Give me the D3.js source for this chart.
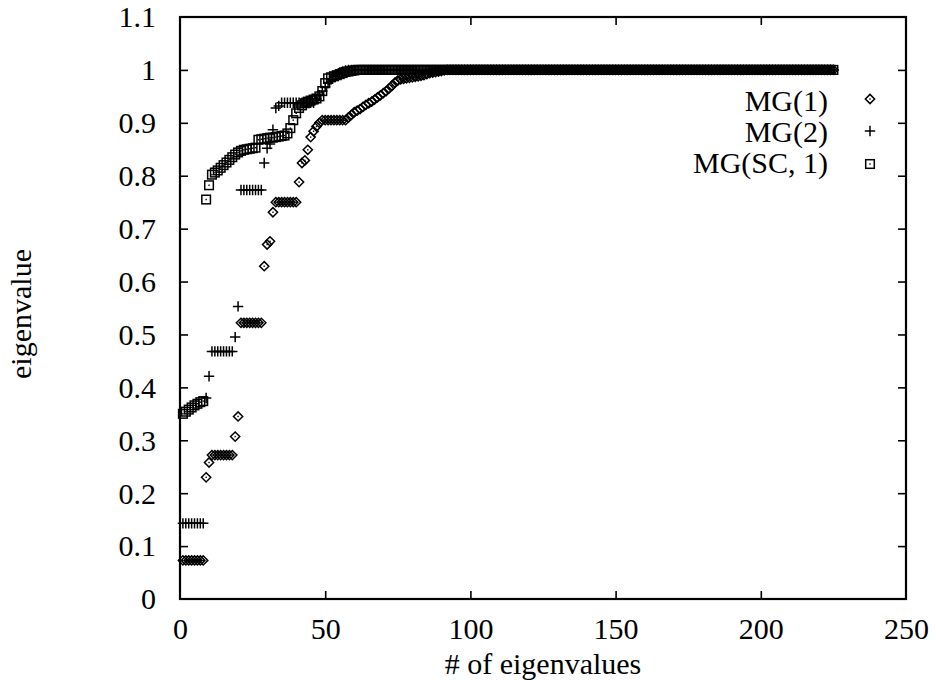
<!DOCTYPE html>
<html><head><meta charset="utf-8">
<script src="https://cdn.jsdelivr.net/npm/d3@7/dist/d3.min.js"></script>
<style>body{margin:0;background:#fff;} svg{display:block;}</style>
</head><body>
<svg id="chart" width="936" height="680"></svg>
<script>
// ---- data ----
const seriesNames = ["MG(1)", "MG(2)", "MG(SC, 1)"];
const xTicks = [0, 50, 100, 150, 200, 250];
const xTickLabels = ["0", "50", "100", "150", "200", "250"];
const yTicks = [0, 0.1, 0.2, 0.3, 0.4, 0.5, 0.6, 0.7, 0.8, 0.9, 1.0, 1.1];
const yTickLabels = ["0", "0.1", "0.2", "0.3", "0.4", "0.5", "0.6", "0.7", "0.8", "0.9", "1", "1.1"];

const mg1 = [
0.073,0.073,0.073,0.073,0.073,0.073,0.073,0.073,
0.230,0.258,
0.272,0.272,0.272,0.272,0.272,0.272,0.272,0.272,
0.307,0.345,
0.522,0.522,0.522,0.522,0.522,0.522,0.522,0.522,
0.629,0.670,0.676,0.731,
0.750,0.750,0.750,0.750,0.750,0.750,0.750,0.750,
0.788,0.824,0.829,0.849,0.873,0.884,0.893,0.900,
0.905,0.905,0.905,0.905,0.905,0.905,0.905,0.905,0.905,
0.910,0.915,0.920,0.923,0.926,0.930,0.934,0.937,0.940,0.944,
0.948,0.952,0.956,0.960,0.965,0.970,0.976,0.980,0.982,0.983,
0.984,0.985,0.986,0.987,0.988,0.989,0.990,0.992,0.994,0.995,
0.996,0.997,0.998,0.999,
1,1,1,1,1,1,1,1,1,1, 1,1,1,1,1,1,1,1,1,1,
1,1,1,1,1,1,1,1,1,1, 1,1,1,1,1,1,1,1,1,1,
1,1,1,1,1,1,1,1,1,1, 1,1,1,1,1,1,1,1,1,1,
1,1,1,1,1,1,1,1,1,1, 1,1,1,1,1,1,1,1,1,1,
1,1,1,1,1,1,1,1,1,1, 1,1,1,1,1,1,1,1,1,1,
1,1,1,1,1,1,1,1,1,1, 1,1,1,1,1,1,1,1,1,1,
1,1,1,1,1,1,1,1,1,1, 1,1,1,1
];

const mg2 = [
0.143,0.143,0.143,0.143,0.143,0.143,0.143,0.143,
0.380,0.421,
0.468,0.468,0.468,0.468,0.468,0.468,0.468,0.468,
0.495,0.553,
0.773,0.773,0.773,0.773,0.773,0.773,0.773,0.773,
0.824,0.852,0.860,0.887,0.928,0.932,
0.938,0.938,0.938,0.938,0.938,0.938,0.938,0.938,0.938,0.938,0.938,0.938,
0.945,0.952,0.960,0.968,0.975,0.982,0.988,0.992,0.995,0.997,0.999,
1,1,1,1,1,1,1,1,1,1, 1,1,1,1,1,1,1,1,1,1,
1,1,1,1,1,1,1,1,1,1, 1,1,1,1,1,1,1,1,1,1,
1,1,1,1,1,1,1,1,1,1, 1,1,1,1,1,1,1,1,1,1,
1,1,1,1,1,1,1,1,1,1, 1,1,1,1,1,1,1,1,1,1,
1,1,1,1,1,1,1,1,1,1, 1,1,1,1,1,1,1,1,1,1,
1,1,1,1,1,1,1,1,1,1, 1,1,1,1,1,1,1,1,1,1,
1,1,1,1,1,1,1,1,1,1, 1,1,1,1,1,1,1,1,1,1,
1,1,1,1,1,1,1,1,1,1, 1,1,1,1,1,1,1,1,1,1,
1,1,1,1,1,1,1,1
];

const mgsc1 = [
0.350,0.354,0.358,0.362,0.366,0.369,0.372,0.374,
0.755,0.782,
0.802,0.806,0.810,0.815,0.820,0.825,0.830,0.835,0.840,0.844,
0.847,0.849,0.850,0.851,0.852,0.853,
0.868,0.869,0.870,0.871,0.872,0.872,0.873,0.874,0.875,0.876,
0.880,0.890,0.905,0.918,0.928,0.933,0.937,0.940,0.942,0.944,0.946,0.950,
0.960,0.975,0.984,0.986,0.988,0.990,0.992,0.994,0.996,0.997,0.998,0.999,
1,1,1,1,1,1,1,1,1,1, 1,1,1,1,1,1,1,1,1,1,
1,1,1,1,1,1,1,1,1,1, 1,1,1,1,1,1,1,1,1,1,
1,1,1,1,1,1,1,1,1,1, 1,1,1,1,1,1,1,1,1,1,
1,1,1,1,1,1,1,1,1,1, 1,1,1,1,1,1,1,1,1,1,
1,1,1,1,1,1,1,1,1,1, 1,1,1,1,1,1,1,1,1,1,
1,1,1,1,1,1,1,1,1,1, 1,1,1,1,1,1,1,1,1,1,
1,1,1,1,1,1,1,1,1,1, 1,1,1,1,1,1,1,1,1,1,
1,1,1,1,1,1,1,1,1,1, 1,1,1,1,1,1,1,1,1,1,
1,1,1,1,1
];

// ---- layout ----
const svg = d3.select("#chart");
const L = 180, R = 906, T = 17, B = 599;
const FONT = "'Liberation Serif', 'Times New Roman', serif";
const x = d3.scaleLinear().domain([0, 250]).range([L, R]);
const y = d3.scaleLinear().domain([0, 1.1]).range([B, T]);

svg.append("rect").attr("width", 936).attr("height", 680).attr("fill", "#fff");

// axes with inward ticks (mirrored)
const tick = 8;
const gB = svg.append("g").attr("transform", `translate(0,${B})`)
  .call(d3.axisBottom(x).tickValues(xTicks).tickFormat((d, i) => xTickLabels[i])
        .tickSizeInner(-tick).tickSizeOuter(0).tickPadding(19));
const gL = svg.append("g").attr("transform", `translate(${L},0)`)
  .call(d3.axisLeft(y).tickValues(yTicks).tickFormat((d, i) => yTickLabels[i])
        .tickSizeInner(-tick).tickSizeOuter(0).tickPadding(24));
const gT = svg.append("g").attr("transform", `translate(0,${T})`)
  .call(d3.axisTop(x).tickValues(xTicks).tickFormat("").tickSizeInner(-tick).tickSizeOuter(0));
const gR = svg.append("g").attr("transform", `translate(${R},0)`)
  .call(d3.axisRight(y).tickValues(yTicks).tickFormat("").tickSizeInner(-tick).tickSizeOuter(0));
[gB, gL, gT, gR].forEach(g => {
  g.select(".domain").remove();
  g.selectAll(".tick line").attr("stroke", "#000").attr("stroke-width", 1.6);
  g.selectAll(".tick text").attr("fill", "#000").style("font-family", FONT).style("font-size", "30px");
});
gB.selectAll(".tick text").attr("dy", "0.71em");
gL.selectAll(".tick text").attr("dy", "0.33em");
// remove ticks lying on the frame corners
gL.selectAll(".tick line").filter(d => d === 0 || Math.abs(d - 1.1) < 1e-9).remove();
gR.selectAll(".tick line").filter(d => d === 0 || Math.abs(d - 1.1) < 1e-9).remove();
gB.selectAll(".tick line").filter(d => d === 0 || d === 250).remove();
gT.selectAll(".tick line").filter(d => d === 0 || d === 250).remove();

svg.append("rect").attr("x", L).attr("y", T).attr("width", R - L).attr("height", B - T)
  .attr("fill", "none").attr("stroke", "#000").attr("stroke-width", 2.2);

// axis titles
svg.append("text").attr("x", (L + R) / 2).attr("y", 674).attr("text-anchor", "middle")
  .style("font-family", FONT).style("font-size", "30px").text("# of eigenvalues");
svg.append("text").attr("transform", "translate(31,314) rotate(-90)").attr("text-anchor", "middle")
  .style("font-family", FONT).style("font-size", "30px").text("eigenvalue");

// markers
const SW = 1.5;
function drawMarker(g, type, cx, cy) {
  if (type === 0) {
    const r = 4.6;
    g.append("path").attr("d", `M${cx},${cy - r}L${cx + r},${cy}L${cx},${cy + r}L${cx - r},${cy}Z`)
      .attr("fill", "none").attr("stroke", "#000").attr("stroke-width", SW);
    g.append("rect").attr("x", cx - 0.7).attr("y", cy - 0.7).attr("width", 1.4).attr("height", 1.4).attr("fill", "#000");
  } else if (type === 1) {
    const r = 5.2;
    g.append("path").attr("d", `M${cx - r},${cy}H${cx + r}M${cx},${cy - r}V${cy + r}`)
      .attr("fill", "none").attr("stroke", "#000").attr("stroke-width", SW);
  } else {
    const r = 4.3;
    g.append("rect").attr("x", cx - r).attr("y", cy - r).attr("width", 2 * r).attr("height", 2 * r)
      .attr("fill", "none").attr("stroke", "#000").attr("stroke-width", SW);
    g.append("rect").attr("x", cx - 0.7).attr("y", cy - 0.7).attr("width", 1.4).attr("height", 1.4).attr("fill", "#000");
  }
}

const allSeries = [mg1, mg2, mgsc1];
const plotG = svg.append("g");
allSeries.forEach((vals, s) => {
  const g = plotG.append("g").attr("class", "series-" + s);
  vals.forEach((v, i) => drawMarker(g, s, x(i + 1), y(v)));
});

// legend
const legY = [111, 142, 173];
const legMarkY = [99, 131, 164];
seriesNames.forEach((name, s) => {
  svg.append("text").attr("x", 828).attr("y", legY[s]).attr("text-anchor", "end")
    .style("font-family", FONT).style("font-size", "30px").text(name);
  drawMarker(svg.append("g"), s, 870, legMarkY[s]);
});
</script>
</body></html>
